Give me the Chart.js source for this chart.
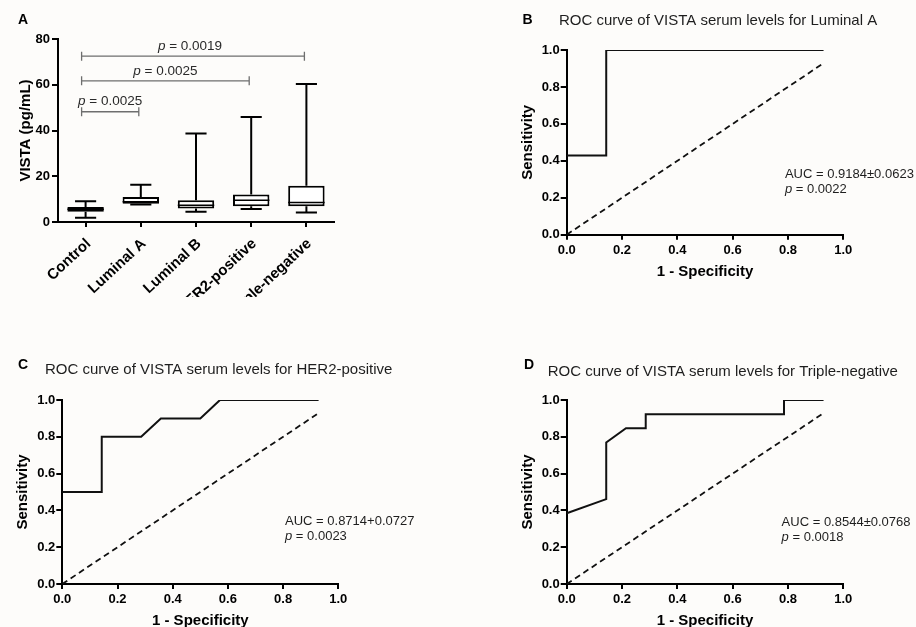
<!DOCTYPE html>
<html><head><meta charset="utf-8">
<script src="https://cdn.jsdelivr.net/npm/chart.js@4/dist/chart.umd.min.js"></script>
<style>
html,body{margin:0;padding:0;background:#fdfcfa;}
#wrap{position:relative;width:916px;height:627px;overflow:hidden;background:#fdfcfa;}
canvas{position:absolute;left:0;top:0;}
</style></head><body>
<div id="wrap">
<canvas id="cA" width="916" height="297"></canvas>
<canvas id="cB" width="916" height="630"></canvas>
<canvas id="cC" width="916" height="630"></canvas>
<canvas id="cD" width="916" height="630"></canvas>
</div>
<script>
// ---------- Panel A data (box plot) ----------
const groups = ['Control', 'Luminal A', 'Luminal B', 'HER2-positive', 'Triple-negative'];
const boxMin = [1.9, 7.6, 4.5, 5.7, 4.1];
const boxQ1 = [4.5, 8.0, 5.9, 6.9, 6.9];
const boxMedian = [5.6, 8.8, 7.3, 9.5, 8.5];
const boxQ3 = [6.6, 10.9, 9.5, 12.0, 15.8];
const boxMax = [9.1, 16.3, 38.7, 45.9, 60.3];
const vistaTicks = [0, 20, 40, 60, 80];
const compFrom = [0, 0, 0];
const compTo = [4, 3, 1];
const compY = [72.5, 61.7, 48.2];
const compP = ['0.0019', '0.0025', '0.0025'];

// ---------- ROC data ----------
const rocTicks = [0, 0.2, 0.4, 0.6, 0.8, 1.0];
const rocTickLabels = ['0.0', '0.2', '0.4', '0.6', '0.8', '1.0'];
const chanceX = [0, 0.9286];
const chanceY = [0, 0.9286];
const lumA_fpr = [0, 0.1429, 0.1429, 0.9286];
const lumA_tpr = [0.4286, 0.4286, 1, 1];
const her2_fpr = [0, 0.1429, 0.1429, 0.2857, 0.3571, 0.5, 0.5714, 0.9286];
const her2_tpr = [0.5, 0.5, 0.8, 0.8, 0.9, 0.9, 1, 1];
const tn_fpr = [0, 0.1429, 0.1429, 0.2143, 0.2857, 0.2857, 0.7857, 0.7857, 0.9286];
const tn_tpr = [0.3846, 0.4615, 0.7692, 0.8462, 0.8462, 0.9231, 0.9231, 1, 1];

const FAM = "'Liberation Sans', Arial, Helvetica, sans-serif";
Chart.defaults.font.family = FAM;
Chart.defaults.color = '#000';

// ---------- text plugin ----------
const panelText = {
  id: 'panelText',
  afterDraw(chart, args, o) {
    const ctx = chart.ctx;
    ctx.save();
    ctx.textBaseline = 'middle';
    ctx.textAlign = 'left';
    ctx.fillStyle = '#000';
    ctx.font = 'bold 14px ' + FAM;
    ctx.fillText(o.letter, o.lx, o.ly);
    if (o.title) {
      ctx.fillStyle = '#1e1e1e';
      ctx.font = '15px ' + FAM;
      ctx.fillText(o.title, o.tx, o.ty);
    }
    if (o.auc) {
      const x = chart.scales.x.getPixelForValue(o.ax);
      const y = chart.scales.y.getPixelForValue(o.ay);
      ctx.fillStyle = '#1e1e1e';
      ctx.font = '13px ' + FAM;
      ctx.fillText(o.auc, x, y);
      ctx.font = 'italic 13px ' + FAM;
      ctx.fillText('p', x, y + 15);
      const w = ctx.measureText('p').width;
      ctx.font = '13px ' + FAM;
      ctx.fillText(' = ' + o.p, x + w, y + 15);
    }
    ctx.restore();
  }
};

// ---------- box plot plugin ----------
const boxPlugin = {
  id: 'boxWhisk',
  beforeDatasetsDraw(chart) {
    const {ctx, scales: {x, y}} = chart;
    const meta = chart.getDatasetMeta(0);
    ctx.save();
    ctx.strokeStyle = '#000';
    ctx.lineWidth = 2;
    groups.forEach((g, i) => {
      const cx = x.getPixelForValue(i);
      const bw = meta.data[i].width;
      const cap = bw * 0.29;
      ctx.beginPath();
      ctx.moveTo(cx, y.getPixelForValue(boxMax[i]));
      ctx.lineTo(cx, y.getPixelForValue(boxQ3[i]));
      ctx.moveTo(cx, y.getPixelForValue(boxQ1[i]));
      ctx.lineTo(cx, y.getPixelForValue(boxMin[i]));
      ctx.moveTo(cx - cap, y.getPixelForValue(boxMax[i]));
      ctx.lineTo(cx + cap, y.getPixelForValue(boxMax[i]));
      ctx.moveTo(cx - cap, y.getPixelForValue(boxMin[i]));
      ctx.lineTo(cx + cap, y.getPixelForValue(boxMin[i]));
      ctx.stroke();
    });
    ctx.restore();
  },
  afterDatasetsDraw(chart) {
    const {ctx, scales: {x, y}} = chart;
    const meta = chart.getDatasetMeta(0);
    ctx.save();
    ctx.strokeStyle = '#000';
    ctx.lineWidth = 1.5;
    groups.forEach((g, i) => {
      const cx = x.getPixelForValue(i);
      const bw = meta.data[i].width;
      const my = y.getPixelForValue(boxMedian[i]);
      ctx.beginPath();
      ctx.moveTo(cx - bw / 2, my);
      ctx.lineTo(cx + bw / 2, my);
      ctx.stroke();
    });
    // significance brackets
    compY.forEach((v, k) => {
      const x1 = x.getPixelForValue(compFrom[k]) - 4;
      const x2 = x.getPixelForValue(compTo[k]) - 2;
      const py = y.getPixelForValue(v);
      ctx.strokeStyle = '#6e6e6e';
      ctx.lineWidth = 1.3;
      ctx.beginPath();
      ctx.moveTo(x1, py); ctx.lineTo(x2, py);
      ctx.moveTo(x1, py - 4.5); ctx.lineTo(x1, py + 4.5);
      ctx.moveTo(x2, py - 4.5); ctx.lineTo(x2, py + 4.5);
      ctx.stroke();
      ctx.fillStyle = '#2a2a2a';
      ctx.textBaseline = 'middle';
      ctx.textAlign = 'left';
      ctx.font = 'italic 13.5px ' + FAM;
      const wp = ctx.measureText('p').width;
      ctx.font = '13.5px ' + FAM;
      const rest = ' = ' + compP[k];
      const wr = ctx.measureText(rest).width;
      const sx = Math.min((x1 + x2) / 2, 190) - (wp + wr) / 2;
      ctx.font = 'italic 13.5px ' + FAM;
      ctx.fillText('p', sx, py - 10);
      ctx.font = '13.5px ' + FAM;
      ctx.fillText(rest, sx + wp, py - 10);
    });
    ctx.restore();
  }
};

// ---------- Panel A ----------
(function () {
  const H = 297;
  const area = {left: 58, right: 334, top: 39, bottom: 222};
  const yW = 41, xH = H - 222;
  new Chart(document.getElementById('cA'), {
    type: 'bar',
    data: {
      labels: groups,
      datasets: [{
        data: groups.map((g, i) => [boxQ1[i], boxQ3[i]]),
        backgroundColor: '#ffffff',
        borderColor: '#000',
        borderWidth: 2,
        borderSkipped: false,
        barPercentage: 0.66,
        categoryPercentage: 1
      }]
    },
    plugins: [boxPlugin, panelText],
    options: {
      responsive: false, animation: false, devicePixelRatio: 1,
      events: [],
      layout: {padding: {left: area.left - yW, right: 916 - area.right, top: area.top, bottom: H - area.bottom - xH}},
      plugins: {
        legend: {display: false}, tooltip: {enabled: false},
        panelText: {letter: 'A', lx: 18, ly: 20}
      },
      scales: {
        x: {
          offset: true,
          grid: {offset: false, drawOnChartArea: false, color: '#000', lineWidth: 2, tickLength: 5},
          border: {color: '#000', width: 2},
          ticks: {minRotation: 43, maxRotation: 43, padding: 8, labelOffset: 3, color: '#000', font: {size: 15, weight: 'bold'}, autoSkip: false},
          afterFit(s) { s.height = xH; }
        },
        y: {
          min: 0, max: 80,
          afterBuildTicks(s) { s.ticks = vistaTicks.map(v => ({value: v})); },
          grid: {drawOnChartArea: false, color: '#000', lineWidth: 2, tickLength: 6},
          border: {color: '#000', width: 2},
          ticks: {padding: 2, color: '#000', font: {size: 13, weight: 'bold'}},
          title: {display: true, text: 'VISTA (pg/mL)', color: '#000', font: {size: 15, weight: 'bold'}, padding: 0},
          afterFit(s) { s.width = yW; }
        }
      }
    }
  });
})();

// ---------- ROC panels ----------
function rocChart(id, fpr, tpr, area, yW, xH, txt) {
  const H = 630;
  new Chart(document.getElementById(id), {
    type: 'scatter',
    data: {
      datasets: [
        {
          data: fpr.map((v, i) => ({x: v, y: tpr[i]})),
          showLine: true, borderColor: '#111', borderWidth: 2, pointRadius: 0, tension: 0
        },
        {
          data: chanceX.map((v, i) => ({x: v, y: chanceY[i]})),
          showLine: true, borderColor: '#111', borderWidth: 1.8, borderDash: [6, 4], pointRadius: 0, tension: 0
        }
      ]
    },
    plugins: [panelText],
    options: {
      responsive: false, animation: false, devicePixelRatio: 1,
      events: [],
      layout: {padding: {left: area.left - yW, right: 916 - area.right, top: area.top, bottom: H - area.bottom - xH}},
      plugins: {legend: {display: false}, tooltip: {enabled: false}, panelText: txt},
      scales: {
        x: {
          type: 'linear', min: 0, max: 1,
          afterBuildTicks(s) { s.ticks = rocTicks.map(v => ({value: v})); },
          grid: {drawOnChartArea: false, color: '#000', lineWidth: 2, tickLength: 5},
          border: {color: '#000', width: 2},
          ticks: {padding: 3, color: '#000', font: {size: 13, weight: 'bold'}, callback: (v, i) => rocTickLabels[i]},
          title: {display: true, text: '1 - Specificity', color: '#000', font: {size: 15, weight: 'bold'}, padding: 0},
          afterFit(s) { s.height = xH; }
        },
        y: {
          type: 'linear', min: 0, max: 1,
          afterBuildTicks(s) { s.ticks = rocTicks.map(v => ({value: v})); },
          grid: {drawOnChartArea: false, color: '#000', lineWidth: 2, tickLength: 6},
          border: {color: '#000', width: 2},
          ticks: {padding: 1, color: '#000', font: {size: 13, weight: 'bold'}, callback: (v, i) => rocTickLabels[i]},
          title: {display: true, text: 'Sensitivity', color: '#000', font: {size: 15, weight: 'bold'}, padding: 0},
          afterFit(s) { s.width = yW; }
        }
      }
    }
  });
}

rocChart('cB', lumA_fpr, lumA_tpr, {left: 566.7, right: 843.3, top: 50, bottom: 234.7}, 47.7, 45.8,
  {letter: 'B', lx: 522.5, ly: 20, title: 'ROC curve of VISTA serum levels for Luminal A', tx: 559, ty: 21,
   auc: 'AUC = 0.9184\u00b10.0623', p: '0.0022', ax: 0.789, ay: 0.327});
rocChart('cC', her2_fpr, her2_tpr, {left: 62.3, right: 338.3, top: 400, bottom: 584}, 48.6, 45.5,
  {letter: 'C', lx: 18, ly: 365.5, title: 'ROC curve of VISTA serum levels for HER2-positive', tx: 45, ty: 369.7,
   auc: 'AUC = 0.8714+0.0727', p: '0.0023', ax: 0.807, ay: 0.339});
rocChart('cD', tn_fpr, tn_tpr, {left: 566.7, right: 843.3, top: 400, bottom: 584}, 47.7, 45.5,
  {letter: 'D', lx: 524, ly: 365, title: 'ROC curve of VISTA serum levels for Triple-negative', tx: 547.7, ty: 372.2,
   auc: 'AUC = 0.8544\u00b10.0768', p: '0.0018', ax: 0.777, ay: 0.333});
</script>
</body></html>
